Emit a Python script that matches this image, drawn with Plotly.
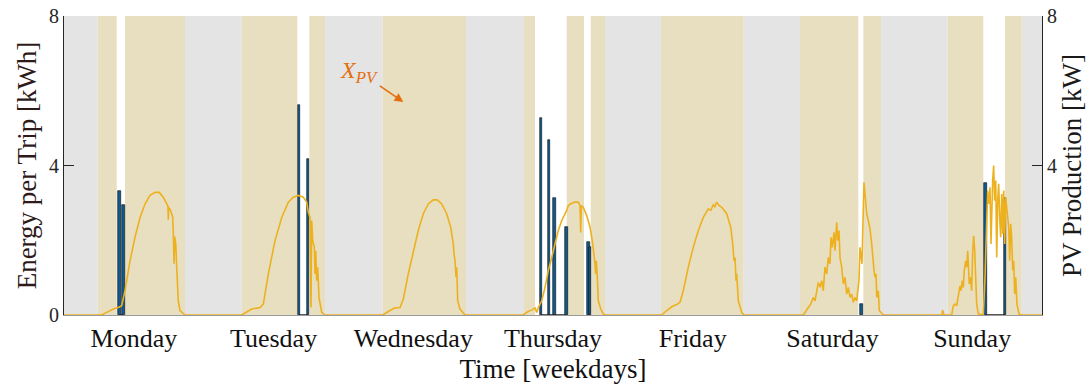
import plotly.graph_objects as go

# ---------------- data ----------------
days = ["Monday", "Tuesday", "Wednesday", "Thursday", "Friday", "Saturday", "Sunday"]
day_ticks = [12, 36, 60, 84, 108, 132, 156]

# trips: time [h since Monday 00:00] and energy per trip [kWh]
trip_time = [9.50, 10.19, 40.32, 41.91, 81.94, 83.31, 84.22, 86.35, 90.07, 90.35, 137.00, 158.33, 161.60]
trip_energy = [3.31, 2.94, 5.63, 4.17, 5.28, 4.69, 3.12, 2.35, 1.96, 1.81, 0.30, 3.52, 3.14]

# background states (start, end) in hours
night_start = [0.00, 20.79, 44.83, 69.06, 92.93, 116.76, 140.35, 164.51]
night_end = [5.79, 30.53, 54.75, 79.02, 102.55, 126.43, 151.80, 168.00]
home_start = [5.79, 10.48, 30.53, 42.14, 54.75, 79.02, 86.35, 90.48, 102.55, 126.43, 137.31, 151.80, 161.64]
home_end = [9.05, 20.79, 40.08, 44.83, 69.06, 80.91, 89.33, 92.93, 116.76, 136.45, 140.35, 157.92, 164.51]
away_start = [9.05, 40.08, 80.91, 89.33, 136.45, 157.92]
away_end = [10.48, 42.14, 86.35, 90.48, 137.31, 161.64]

# PV production [kW]
pv_mon_t = [6.47, 7.33, 8.47, 9.33, 9.91, 10.48, 11.34, 12.20, 13.06, 13.92, 14.77, 15.63, 16.37, 17.06,
            17.64, 17.85, 17.92, 17.99, 18.30, 18.67, 18.78, 18.90, 19.02, 19.20, 19.36, 19.63, 19.93, 20.49, 20.79]
pv_mon_p = [0.00, 0.07, 0.16, 0.20, 0.25, 0.65, 1.45, 2.08, 2.61, 2.97, 3.20, 3.28, 3.28, 3.15,
            2.97, 2.92, 2.55, 2.88, 2.80, 2.62, 2.17, 1.37, 2.10, 1.90, 1.28, 0.38, 0.12, 0.03, 0.00]
pv_tue_t = [30.53, 32.24, 33.67, 34.24, 35.10, 36.25, 37.40, 38.53, 39.39, 40.25, 41.11, 41.69, 41.97, 42.26,
            42.43, 42.55, 42.72, 43.00, 43.12, 43.24, 43.41, 43.58, 43.80, 44.27, 44.83]
pv_tue_p = [0.00, 0.16, 0.20, 0.29, 1.10, 1.99, 2.61, 3.02, 3.15, 3.20, 3.15, 3.02, 2.75, 2.61,
            0.20, 2.53, 1.99, 1.81, 1.10, 1.72, 0.92, 1.28, 0.47, 0.07, 0.00]
pv_wed_t = [54.75, 56.00, 56.86, 57.72, 58.29, 59.14, 60.00, 60.86, 61.72, 62.58, 63.44, 64.13, 64.88, 65.74,
            66.43, 66.87, 67.00, 67.17, 67.34, 67.46, 67.63, 68.02, 68.88]
pv_wed_p = [0.00, 0.12, 0.19, 0.20, 0.43, 1.10, 1.72, 2.26, 2.71, 2.97, 3.08, 3.08, 2.97, 2.71,
            2.35, 1.90, 1.63, 1.45, 1.01, 1.28, 0.38, 0.16, 0.00]
pv_thu_t = [78.90, 79.76, 80.34, 80.91, 81.20, 81.48, 82.06, 82.63, 83.19, 83.78, 84.34, 84.91, 85.50, 86.06,
            86.35, 86.63, 87.21, 87.78, 88.35, 88.64, 88.76, 88.86, 89.21, 89.79, 90.36, 90.75, 91.04, 91.22,
            91.33, 91.44, 91.61, 91.78, 92.20, 92.64, 92.93]
pv_thu_p = [0.00, 0.10, 0.13, 0.19, 0.07, 0.20, 0.38, 0.74, 1.19, 1.54, 1.90, 2.26, 2.53, 2.71,
            2.79, 2.93, 2.99, 3.02, 3.02, 2.93, 2.21, 2.93, 2.88, 2.66, 2.35, 1.99, 1.63, 1.37,
            1.10, 1.45, 1.01, 0.38, 0.16, 0.03, 0.00]
pv_fri_t = [102.67, 103.53, 104.39, 105.25, 105.82, 106.38, 107.24, 108.10, 108.96, 109.82, 110.68, 111.10,
            111.54, 111.80, 112.12, 112.50, 112.98, 113.84, 114.53, 114.87, 115.09, 115.27, 115.44, 115.56,
            115.83, 116.42, 116.81]
pv_fri_p = [0.00, 0.12, 0.22, 0.28, 0.34, 0.65, 1.28, 1.81, 2.26, 2.61, 2.84, 2.80,
            2.95, 2.90, 3.02, 2.93, 2.88, 2.71, 2.35, 1.90, 1.45, 1.54, 0.92, 1.10,
            0.38, 0.07, 0.00]
pv_sat_t = [127.00, 127.46, 127.86, 128.27, 128.71, 129.01, 129.30, 129.57, 129.87, 130.16, 130.43, 130.72,
            131.02, 131.29, 131.58, 131.75, 131.98, 132.27, 132.44, 132.73, 132.91, 133.13, 133.30, 133.59,
            133.87, 134.16, 134.45, 134.73, 135.02, 135.31, 135.59, 135.88, 136.17, 136.56, 136.73, 136.91,
            137.08, 137.20, 137.42, 137.65, 137.89, 138.16, 138.46, 138.75, 138.92, 139.14, 139.31, 139.49,
            139.61, 139.88, 140.05, 140.47, 140.74]
pv_sat_p = [0.00, 0.12, 0.20, 0.29, 0.47, 0.38, 0.65, 0.87, 0.74, 0.92, 0.65, 1.28,
            1.10, 1.54, 1.37, 2.08, 1.81, 2.21, 1.72, 2.48, 1.99, 2.26, 1.54, 1.28,
            0.83, 1.01, 0.56, 0.74, 0.47, 0.56, 0.34, 0.47, 0.38, 0.92, 1.81, 1.54,
            1.37, 2.17, 3.55, 3.15, 2.71, 2.53, 2.30, 1.90, 1.45, 1.19, 1.01, 1.10,
            0.47, 0.65, 0.12, 0.03, 0.00]
pv_sun_t = [150.77, 150.94, 151.17, 152.49, 152.76, 153.06, 153.35, 153.62, 153.91, 154.09, 154.31, 154.48,
            154.65, 154.89, 155.07, 155.24, 155.34, 155.51, 155.68, 155.92, 156.10, 156.27, 156.44, 156.61,
            156.78, 157.06, 157.92, 158.21, 158.50, 158.67, 158.90, 159.07, 159.24, 159.36, 159.53, 159.70,
            159.87, 160.05, 160.22, 160.39, 160.56, 160.73, 160.90, 161.08, 161.25, 161.42, 161.59, 161.76,
            161.93, 162.11, 162.28, 162.45, 162.62, 162.79, 162.97, 163.14, 163.31, 163.48, 163.70, 164.05,
            164.39]
pv_sun_p = [0.00, 0.13, 0.00, 0.00, 0.25, 0.29, 0.25, 0.47, 0.78, 0.65, 0.92, 0.74,
            1.19, 1.45, 1.28, 1.72, 1.45, 0.83, 1.01, 0.65, 1.72, 2.12, 1.72, 0.83,
            0.29, 0.03, 0.00, 1.01, 2.61, 3.33, 2.97, 3.42, 1.90, 2.79, 3.60, 4.00,
            3.06, 3.60, 1.54, 3.06, 3.51, 2.61, 2.08, 3.24, 2.17, 3.33, 1.90, 3.15,
            2.79, 2.61, 2.35, 1.45, 2.44, 2.08, 1.19, 1.45, 0.56, 1.01, 0.29, 0.03,
            0.00]

# ---------------- build ----------------
pv_t = [0.0] + pv_mon_t + pv_tue_t + pv_wed_t + pv_thu_t + pv_fri_t + pv_sat_t + pv_sun_t + [168.0]
pv_p = [0.0] + pv_mon_p + pv_tue_p + pv_wed_p + pv_thu_p + pv_fri_p + pv_sat_p + pv_sun_p + [0.0]

FONT = "Liberation Serif, Times New Roman, serif"
GREY = "#e4e4e4"
TAN = "#e8dfc0"
PV_COLOR = "#EDB120"
BAR_COLOR = "#0f5a8f"
ANNOT = "#E3700F"

shapes = []
for s, e in zip(night_start, night_end):
    shapes.append(dict(type="rect", xref="x", yref="paper", x0=s, x1=e, y0=0, y1=1,
                       fillcolor=GREY, line=dict(width=0), layer="below"))
for s, e in zip(home_start, home_end):
    shapes.append(dict(type="rect", xref="x", yref="paper", x0=s, x1=e, y0=0, y1=1,
                       fillcolor=TAN, line=dict(width=0), layer="below"))

# baseline segments of the trip groups (while away)
base_x, base_y = [], []
for s, e in zip(away_start, away_end):
    inside = [t for t in trip_time if s - 0.05 <= t <= e + 0.05]
    if inside:
        base_x += [min(inside), max(inside), None]
        base_y += [0, 0, None]

fig = go.Figure()
fig.add_trace(go.Scatter(x=base_x, y=base_y, mode="lines", line=dict(color="#222222", width=1.5),
                         hoverinfo="skip", showlegend=False, yaxis="y"))
fig.add_trace(go.Bar(x=trip_time, y=trip_energy, width=0.42, marker=dict(color=BAR_COLOR,
                     line=dict(color="#0a0a0a", width=0.6)), showlegend=False, yaxis="y"))
fig.add_trace(go.Scatter(x=pv_t, y=pv_p, mode="lines", line=dict(color=PV_COLOR, width=1.6),
                         showlegend=False, yaxis="y2"))

fig.update_layout(
    width=1088, height=392,
    margin=dict(l=64, r=46, t=16, b=77),
    paper_bgcolor="white", plot_bgcolor="white",
    font=dict(family=FONT, color="#262626"),
    shapes=shapes,
    bargap=0,
    xaxis=dict(range=[0, 168], tickvals=day_ticks, ticktext=days, showgrid=False, zeroline=False,
               showline=True, linecolor="#9a9a9a", linewidth=1, ticks="", automargin=False,
               tickfont=dict(size=26, color="#111111", family=FONT),
               title=dict(text="Time [weekdays]", font=dict(size=27, color="#111111", family=FONT), standoff=6)),
    yaxis=dict(range=[0, 8], tickvals=[0, 4, 8], showgrid=False, zeroline=False, automargin=False,
               showline=True, linecolor="#262626", linewidth=1, ticks="inside", ticklen=10,
               tickcolor="#262626", tickfont=dict(size=20, color="#262626", family=FONT),
               title=dict(text="Energy per Trip [kWh]", font=dict(size=27, color="#2e1a1a", family=FONT), standoff=4)),
    yaxis2=dict(range=[0, 8], tickvals=[4, 8], overlaying="y", side="right", showgrid=False, zeroline=False,
                automargin=False,
                showline=True, linecolor="#262626", linewidth=1, ticks="inside", ticklen=10,
                tickcolor="#262626", tickfont=dict(size=20, color="#262626", family=FONT),
                title=dict(text="PV Production [kW]", font=dict(size=27, color="#1a1a1a", family=FONT), standoff=2)),
    annotations=[
        dict(x=58.29, y=5.70, xref="x", yref="y", ax=-44, ay=-30, text="<i>X</i><sub><i>PV</i></sub>",
             showarrow=True, arrowhead=2, arrowsize=1.1, arrowwidth=1.6, arrowcolor=ANNOT, standoff=0,
             font=dict(size=24, color=ANNOT, family=FONT)),
    ],
)

fig.write_html("out.html")
